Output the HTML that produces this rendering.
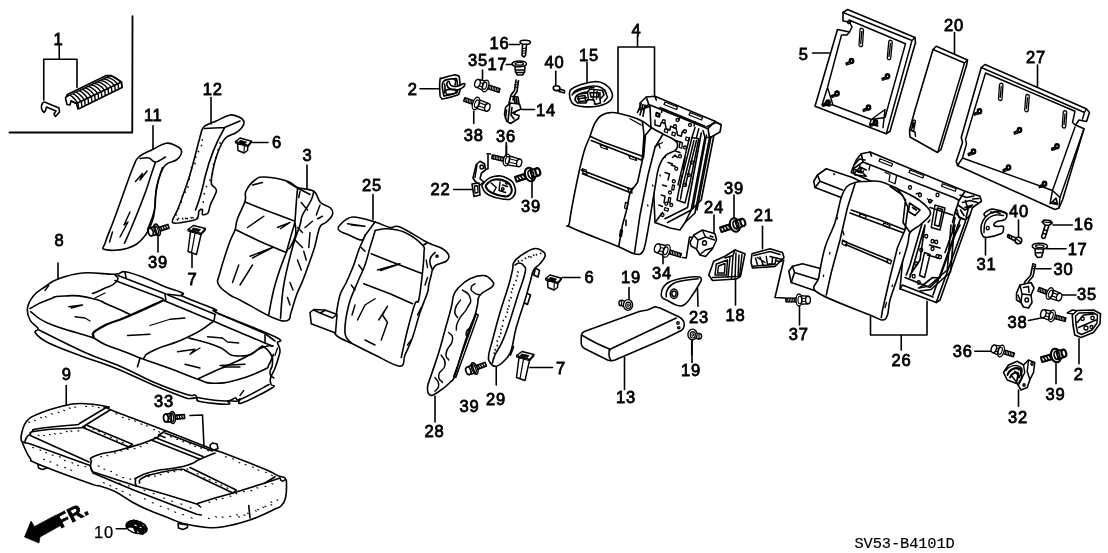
<!DOCTYPE html>
<html><head><meta charset="utf-8"><title>Rear Seat parts diagram</title>
<style>
html,body{margin:0;padding:0;background:#fff}
svg{display:block;will-change:transform}
text{font-family:"Liberation Sans",sans-serif;font-size:16.5px;fill:#000;stroke:#000;stroke-width:.8px;letter-spacing:.7px}
.l{fill:none;stroke:#000;stroke-linecap:round;stroke-linejoin:round}
.w{fill:#fff;stroke:#000;stroke-linecap:round;stroke-linejoin:round}
.k{fill:#000;stroke:#000;stroke-linejoin:round}
</style></head><body>
<svg width="1108" height="553" viewBox="0 0 1108 553">
<rect width="1108" height="553" fill="#fff"/>
<!-- 00_box1.py -->
<g transform="translate(0 0) scale(0.25)" stroke-width="6.4"><path class="l" d="M530,65 L529,530 L38,530" stroke-width="7.28"/><path class="l" d="M237,182 L237,237 M175,237 L308,237 M175,237 L175,400 M308,237 L308,350"/><path class="w" d="M176,450 C165,440 163,425 170,412 L178,408 L236,432 L238,448 L222,466 L216,456 L224,444 L186,428 L182,442 Z"/><path class="w" d="M268,418 L262,392 L270,378 L425,302 L445,302 L486,328 L488,350 L322,432 L312,436 L306,414 L284,404 L280,420 Z"/><path class="l" d="M270,386 C278,372 298,392 312,414 L314,432 M282.154,380.154 C290.154,366.154 311.385,385.692 325.385,407.692 L327.385,425.692 M294.308,374.308 C302.308,360.308 324.769,379.385 338.769,401.385 L340.769,419.385 M306.462,368.462 C314.462,354.462 338.154,373.077 352.154,395.077 L354.154,413.077 M318.615,362.615 C326.615,348.615 351.538,366.769 365.538,388.769 L367.538,406.769 M330.769,356.769 C338.769,342.769 364.923,360.462 378.923,382.462 L380.923,400.462 M342.923,350.923 C350.923,336.923 378.308,354.154 392.308,376.154 L394.308,394.154 M355.077,345.077 C363.077,331.077 391.692,347.846 405.692,369.846 L407.692,387.846 M367.231,339.231 C375.231,325.231 405.077,341.538 419.077,363.538 L421.077,381.538 M379.385,333.385 C387.385,319.385 418.462,335.231 432.462,357.231 L434.462,375.231 M391.538,327.538 C399.538,313.538 431.846,328.923 445.846,350.923 L447.846,368.923 M403.692,321.692 C411.692,307.692 445.231,322.615 459.231,344.615 L461.231,362.615 M415.846,315.846 C423.846,301.846 458.615,316.308 472.615,338.308 L474.615,356.308 M428,310 C436,296 472,310 486,332 L488,350 " stroke-width="5.72"/><path class="l" d="M306,414 L486,328 M284,404 L306,414"/></g>

<!-- 01_p11_12.py -->
<g transform="translate(80 112) scale(0.25)" stroke-width="6.4"><path class="w" d="M235,180 C250.0,167.0 268.0,161.0 290,150 C312.0,139.0 326.0,127.8 345,125 C364.0,122.2 373.2,131.0 385,136 C396.8,141.0 400.2,143.2 404,150 C407.8,156.8 407.8,161.6 404,170 C400.2,178.4 397.4,183.6 385,192 C372.6,200.4 355.4,198.4 342,212 C328.6,225.6 326.0,235.4 318,260 C310.0,284.6 306.8,303.0 302,335 C297.2,367.0 303.2,387.0 294,420 C284.8,453.0 276.8,475.0 256,500 C235.2,525.0 221.2,535.0 190,545 C158.8,555.0 117.6,555.0 100,550 C82.4,545.0 94.0,546.0 102,520 C110.0,494.0 122.4,468.0 140,420 C157.6,372.0 175.0,321.0 190,280 C205.0,239.0 206.0,235.0 215,215 C224.0,195.0 220.0,193.0 235,180 Z"/><path class="l" d="M240,186 C247.0,185.6 262.6,181.2 275,184 C287.4,186.8 288.6,200.8 302,200 C315.4,199.2 334.0,184.0 342,180M302,200 C298.6,210.0 293.0,226.0 285,250 C277.0,274.0 276.0,282.0 262,320 C248.0,358.0 231.8,399.0 215,440 C198.2,481.0 185.4,508.0 178,525"/><path class="l" d="M330,222 C324.0,241.5 314.0,258.0 306,300 C298.0,342.0 307.0,347.5 298,390 C289.0,432.5 277.0,450.0 270,470" stroke-width="5.85"/><path class="l" d="M222,278 L250,246 L240,272 L268,236 M200,400 L176,452 L192,440 L160,500 M130,480 L118,520" stroke-width="5.85"/><path class="l" d="M292,55 L292,148"/><path class="w" d="M495,60 C504.8,50.4 529.2,43.2 545,36 C560.8,28.8 585.8,14.1 600,12 C614.2,9.9 631.6,17.8 640,22 C648.4,26.2 654.8,34.0 656,40 C657.2,46.0 653.1,55.4 648,62 C642.9,68.6 631.9,77.7 622,84 C612.1,90.3 592.5,92.6 582,104 C571.5,115.4 559.8,139.6 552,160 C544.2,180.4 533.9,220.8 530,240 C526.1,259.2 523.6,276.9 526,288 C528.4,299.1 546.6,301.7 546,314 C545.4,326.3 527.1,356.5 522,370 C516.9,383.5 516.8,398.0 512,404 C507.2,410.0 493.3,412.1 490,410 C486.7,407.9 492.1,392.1 490,390 C487.9,387.9 479.0,390.8 476,396 C473.0,401.2 475.4,419.0 470,425 C464.6,431.0 455.0,433.4 440,436 C425.0,438.6 376.8,450.4 370,442 C363.2,433.6 384.5,408.8 395,380 C405.5,351.2 427.2,292.0 440,250 C452.8,208.0 471.8,128.5 480,100 C488.2,71.5 485.2,69.6 495,60 Z"/><path class="l" d="M497,66 L578,62 M578,62 L640,36 M578,64 C545,120 515,200 500,260 C490,310 475,360 462,392"/><path class="l" d="M488,111 l2,2 M485,133 l2,2 M473,157 l2,2 M462,179 l2,2 M459,205 l2,2 M445,223 l2,2 M438,252 l2,2 M436,267 l2,2 M431,299 l2,2 M420,319 l2,2 M408,336 l2,2 M404,359 l2,2 M393,384 l2,2 M383,410 l2,2 M559,123 l2,2 M551,151 l2,2 M542,182 l2,2 M533,208 l2,2 M529,245 l2,2 M519,272 l2,2 M505,297 l2,2 M496,326 l2,2 M492,359 l2,2 M483,389 l2,2 M388,430 l2,2 M393,425 l2,2 M410,426 l2,2 M422,425 l2,2 M428,425 l2,2 M444,422 l2,2 M451,422 l2,2 M468,424 l2,2 " stroke-width="5.2"/><path class="l" d="M524,-58 L524,48"/><path class="l" d="M690,122 L752,122 M312,500 L312,560 M448,548 L448,622"/></g>

<!-- 02_seat3_25.py -->
<g transform="translate(215 165) scale(0.25)" stroke-width="6.4"><path class="w" d="M20,430 C11.2,463.6 6.0,460.0 14,478 C22.0,496.0 42.8,507.6 60,520 C77.2,532.4 66.0,522.0 100,540 C134.0,558.0 192.0,593.6 230,610 C268.0,626.4 275.2,626.0 290,622 C304.8,618.0 296.8,610.4 304,590 C311.2,569.6 316.4,546.0 326,520 C335.6,494.0 342.4,484.0 352,460 C361.6,436.0 364.8,426.0 374,400 C383.2,374.0 390.8,354.0 398,330 C405.2,306.0 405.2,297.2 410,280 C414.8,262.8 414.8,254.4 422,244 C429.2,233.6 436.4,237.2 446,228 C455.6,218.8 466.8,209.2 470,198 C473.2,186.8 471.6,181.6 462,172 C452.4,162.4 435.4,163.4 422,150 C408.6,136.6 413.4,117.0 395,105 C376.6,93.0 351.0,98.0 330,90 C309.0,82.0 316.0,73.4 290,65 C264.0,56.6 226.0,49.0 200,48 C174.0,47.0 175.2,48.8 160,60 C144.8,71.2 132.0,87.0 124,104 C116.0,121.0 126.8,122.8 120,145 C113.2,167.2 98.0,192.0 90,215 C82.0,238.0 86.4,241.0 80,260 C73.6,279.0 70.0,276.0 58,310 C46.0,344.0 28.8,396.4 20,430 Z"/><path class="l" d="M120,148 C136.0,154.4 160.0,164.6 200,180 C240.0,195.4 296.0,216.0 320,225M320,225 C321.2,208.0 324.0,166.0 326,140 C328.0,114.0 329.2,104.0 330,95M85,260 C106.0,270.0 150.0,292.0 190,310 C230.0,328.0 266.0,342.0 285,350M285,350 C288.4,338.0 295.0,314.4 302,290 C309.0,265.6 316.4,240.4 320,228M320,228 C320.4,238.4 326.0,259.6 322,280 C318.0,300.4 307.4,316.0 300,330 C292.6,344.0 297.0,320.0 285,350 C273.0,380.0 254.0,430.4 240,480 C226.0,529.6 220.0,574.4 215,598M395,105 C393.0,112.0 394.0,121.0 385,140 C376.0,159.0 359.0,180.0 350,200 C341.0,220.0 348.0,214.0 340,240 C332.0,266.0 323.0,282.0 310,330 C297.0,378.0 284.6,423.2 275,480 C265.4,536.8 264.6,587.2 262,614M290,68 L330,92 L380,118"/><path class="l" d="M130,250 L195,205 M250,250 L300,230 L262,255 M140,365 L230,330 L150,372 M100,480 L150,400 M70,470 L95,400 M320,300 L350,330 M380,270 L375,330 M330,380 L345,420 M300,470 L312,500 M360,250 L390,225 M420,160 L405,200 M345,150 L370,180 M330,250 L350,270 M290,530 L300,560 M355,345 L365,380 M410,215 L430,205 M150,80 L190,70 M340,105 L335,130" stroke-width="5.85"/><path class="w" d="M600,282 C601.8,274.8 595.8,300.0 585,300 C574.2,300.0 555.8,288.8 540,282 C524.2,275.2 504.2,269.6 497,262 C489.8,254.4 490.5,249.7 500,240 C509.5,230.3 524.8,210.2 550,208 C575.2,205.8 613.0,220.4 640,228 C667.0,235.6 682.0,246.4 700,250 C718.0,253.6 713.0,237.2 740,248 C767.0,258.8 819.4,294.3 850,310 C880.6,325.7 894.7,325.6 910,335 C925.3,344.4 932.3,353.0 935,362 C937.7,371.0 934.0,378.2 925,385 C916.0,391.8 894.9,393.7 885,400 C875.1,406.3 873.6,412.8 870,420 C866.4,427.2 867.7,429.2 865,440 C862.3,450.8 857.7,467.4 855,480 C852.3,492.6 856.3,490.2 850,510 C843.7,529.8 830.8,557.6 820,590 C809.2,622.4 800.8,659.4 790,690 C779.2,720.6 769.0,739.3 760,760 C751.0,780.7 761.6,805.0 740,805 C718.4,805.0 672.4,775.3 640,760 C607.6,744.7 588.8,735.3 560,720 C531.2,704.7 493.5,696.6 480,675 C466.5,653.4 481.4,627.9 485,600 C488.6,572.1 492.8,543.4 500,520 C507.2,496.6 515.1,491.6 525,470 C534.9,448.4 546.0,423.4 555,400 C564.0,376.6 566.9,361.2 575,340 C583.1,318.8 598.2,289.2 600,282 Z"/><path class="w" d="M380,590 L395,578 L440,580 L488,598 L482,672 L385,635 Z"/><path class="l" d="M395,580 L420,592 L470,612 L485,600 M420,592 L440,582"/><path class="l" d="M640,228 L600,282 M640,265 C636.0,278.0 628.0,303.0 620,330 C612.0,357.0 610.0,372.0 600,400 C590.0,428.0 583.0,438.0 570,470 C557.0,502.0 545.0,520.0 535,560 C525.0,600.0 518.0,639.6 520,670 C522.0,700.4 540.0,703.6 545,712M640,262 C649.0,260.7 668.4,253.6 690,255 C711.6,256.4 734.8,258.3 760,270 C785.2,281.7 816.3,305.6 830,320 C843.7,334.4 836.0,330.2 836,350 C836.0,369.8 833.8,395.8 830,430 C826.2,464.2 820.4,517.5 815,540 C809.6,562.5 808.1,533.4 800,555 C791.9,576.6 779.9,621.3 770,660 C760.1,698.7 749.5,750.2 745,770M625,355 L700,385 L830,435 M595,475 L700,515 L790,555 M850,310 L832,322 M870,420 C867.0,408.0 857.0,401.0 860,380 C863.0,359.0 874.0,359.0 880,350"/><path class="l" d="M530,235 L600,245 L545,240 M650,420 L740,395 L662,422 M570,620 L600,560 L640,535 M655,620 L690,565 L670,600 L690,630 L665,700 M575,400 L590,420 M545,480 L560,500 M840,480 L850,450 M810,600 L825,570 M770,720 L785,700 M560,560 L548,600 M585,330 L600,345 M845,380 L850,410 M600,700 L640,720" stroke-width="5.85"/><path class="l" d="M888,365 m-5,0 a5,4 0 1,0 10,0 a5,4 0 1,0 -10,0" stroke-width="5.2"/><path class="l" d="M368,0 L368,95 M632,118 L632,218"/></g>

<!-- 03_cushion8.py -->
<g transform="translate(15 268) scale(0.25)" stroke-width="6.4"><path class="w" d="M50,160 C53.0,140.4 61.0,127.0 75,110 C89.0,93.0 101.0,88.0 120,75 C139.0,62.0 140.0,56.0 170,45 C200.0,34.0 224.0,24.0 270,20 C316.0,16.0 366.0,26.0 400,25 C434.0,24.0 416.0,12.0 440,15 C464.0,18.0 488.0,28.0 520,40 C552.0,52.0 570.0,63.0 600,75 C630.0,87.0 655.0,92.0 670,100 C685.0,108.0 649.0,102.0 675,115 C701.0,128.0 773.0,152.0 800,165 C827.0,178.0 762.0,158.0 810,180 C858.0,202.0 992.0,251.0 1040,275 C1088.0,299.0 1046.0,289.0 1050,300 C1054.0,311.0 1059.4,317.8 1060,330 C1060.6,342.2 1057.0,346.8 1053,361 C1049.0,375.2 1046.2,385.0 1040,401 C1033.8,417.0 1025.2,428.0 1022,441 C1018.8,454.0 1022.8,458.2 1024,466 C1025.2,473.8 1051.4,465.2 1028,480 C1004.6,494.8 932.6,531.2 907,540 C881.4,548.8 904.0,525.4 900,524 C896.0,522.6 896.4,531.4 887,533 C877.6,534.6 860.4,529.6 853,532 C845.6,534.4 872.6,544.6 850,545 C827.4,545.4 764.6,539.0 740,534 C715.4,529.0 735.0,522.4 727,520 C719.0,517.6 710.8,522.8 700,522 C689.2,521.2 702.4,526.8 673,516 C643.6,505.2 607.6,491.2 553,468 C498.4,444.8 457.2,423.0 400,400 C342.8,377.0 320.4,373.2 267,353 C213.6,332.8 170.0,317.6 133,299 C96.0,280.4 90.2,271.4 82,260 C73.8,248.6 96.4,252.4 92,242 C87.6,231.6 68.4,224.4 60,208 C51.6,191.6 47.0,179.6 50,160 Z"/><path class="l" d="M96,248 C132.8,266.0 213.8,308.4 280,338 C346.2,367.6 372.4,372.4 427,396 C481.6,419.6 501.0,434.0 553,456 C605.0,478.0 653.6,495.6 687,506 C720.4,516.4 709.4,505.2 720,508 C730.6,510.8 715.0,515.2 740,520 C765.0,524.8 817.0,532.0 845,532 C873.0,532.0 868.0,521.6 880,520 C892.0,518.4 877.8,534.8 905,524 C932.2,513.2 993.8,477.6 1016,466"/><path class="l" d="M63,175 C80.5,186.5 82.0,198.5 133,221 C184.0,243.5 222.0,250.8 267,265 C312.0,279.2 301.5,274.8 313,278M500,360 C530.0,370.5 561.2,380.5 620,402 C678.8,423.5 691.8,431.2 735,446 C778.2,460.8 755.0,460.5 793,461 C831.0,461.5 837.0,461.2 887,448 C937.0,434.8 960.8,423.5 993,408 C1025.2,392.5 1005.8,401.8 1016,386 C1026.2,370.2 1029.5,355.2 1034,345"/><path class="l" d="M60,162 C84.5,150.1 81.0,145.5 130,128 C179.0,110.5 140.5,114.8 200,112 C259.5,109.2 237.0,106.7 300,120 C363.0,133.3 324.0,126.9 380,150 C436.0,173.1 432.0,173.4 460,186"/><path class="l" d="M400,26 C401.8,36.1 422.5,34.4 405,55 C387.5,75.7 383.2,68.5 350,85 C316.8,101.5 324.0,96.0 310,102"/><path class="l" d="M400,50 L590,122 L600,132 M412,30 L604,104 L670,112 M440,18 L445,42"/><path class="l" d="M592,130 C545.8,151.0 548.2,151.5 460,190 C371.8,228.5 391.4,209.2 340,240 C288.6,270.8 322.4,264.7 313,278" stroke-width="9.1"/><path class="l" d="M313,278 C322.4,283.6 336.6,295.2 360,306 C383.4,316.8 402.0,321.2 430,332 C458.0,342.8 486.0,354.4 500,360M500,360 L490,395"/><path class="l" d="M792,215 C756.3,236.7 771.2,237.8 690,277 C608.8,316.2 621.2,297.9 560,327 C498.8,356.1 530.8,348.4 515,360"/><path class="l" d="M600,132 L792,212 M612,108 L802,186 M600,104 L604,132 M800,186 L796,214"/><path class="l" d="M800,215 C835.0,230.1 830.0,228.2 900,258 C970.0,287.8 953.8,281.1 1000,300 C1046.2,318.9 1020.8,307.8 1032,312"/><path class="l" d="M812,182 L1000,262 L1040,292 M1000,262 L1000,300"/><path class="l" d="M695,280 C731.8,290.5 728.2,284.8 800,310 C871.8,335.2 833.5,351.3 900,352 C966.5,352.7 958.5,326.0 990,312"/><path class="l" d="M735,442 C757.8,431.5 759.8,430.2 800,412 C840.2,393.8 804.5,411.0 850,390 C895.5,369.0 881.0,377.2 930,352 C979.0,326.8 955.0,332.0 990,318 C1025.0,304.0 1016.0,314.1 1030,312"/><path class="l" d="M990,312 C1000.5,321.8 1006.0,316.2 1020,340 C1034.0,363.8 1030.0,352.0 1030,380 C1030.0,408.0 1018.2,399.0 1020,420 C1021.8,441.0 1029.8,433.0 1035,440"/><path class="l" d="M215,155 L270,148 L225,160 M240,195 L280,200 L300,212 M320,120 L360,100 M540,230 L620,205 L680,200 M450,270 L540,265 M650,335 L720,325 L700,345 L740,320 M770,275 L830,280 L850,296 L895,300 M680,385 L740,400 M820,390 L920,385 M830,396 L900,396 M120,90 L135,70 M1040,350 L1050,320 M900,510 L915,490" stroke-width="5.2"/><path class="l" d="M172,-20 L172,44"/></g>

<!-- 04_cushion9.py -->
<g transform="translate(15 393) scale(0.25)" stroke-width="6.4"><path class="w" d="M92,285 L94,300 L110,306 L128,300 L128,290 Z M652,522 L654,540 L672,546 L690,538 L690,528 Z"/><path class="w" d="M25,170 C28.0,153.0 32.0,132.0 45,115 C58.0,98.0 63.0,97.0 90,85 C117.0,73.0 146.0,63.6 180,55 C214.0,46.4 222.0,42.0 260,42 C298.0,42.0 345.0,49.8 370,55 C395.0,60.2 339.0,49.0 385,68 C431.0,87.0 519.0,118.6 600,150 C681.0,181.4 746.0,208.0 790,225 C834.0,242.0 778.0,219.0 820,235 C862.0,251.0 954.0,286.0 1000,305 C1046.0,324.0 1034.0,323.0 1050,330 C1066.0,337.0 1072.8,333.0 1080,340 C1087.2,347.0 1085.6,349.0 1086,365 C1086.4,381.0 1086.0,403.0 1082,420 C1078.0,437.0 1074.4,441.2 1066,450 C1057.6,458.8 1065.2,452.4 1040,464 C1014.8,475.6 981.2,493.8 940,508 C898.8,522.2 868.6,529.0 834,535 C799.4,541.0 799.0,540.6 767,538 C735.0,535.4 703.4,529.2 674,522 C644.6,514.8 650.8,514.0 620,502 C589.2,490.0 550.6,475.4 520,462 C489.4,448.6 491.0,448.6 467,435 C443.0,421.4 425.4,406.6 400,394 C374.6,381.4 360.0,378.4 340,372 C320.0,365.6 349.6,379.6 300,362 C250.4,344.4 140.0,304.4 92,284 C44.0,263.6 72.4,276.8 60,260 C47.6,243.2 37.0,218.0 30,200 C23.0,182.0 22.0,187.0 25,170 Z"/><path class="l" d="M60,165 C74.0,159.8 33.5,158.8 100,150 C166.5,141.2 189.8,145.2 250,140 C310.2,134.8 264.3,136.8 272,135"/><path class="l" d="M70,152 C84.0,147.8 45.2,149.1 110,140 C174.8,130.9 204.2,130.9 255,126"/><path class="l" d="M272,135 L380,68 M258,122 L368,56 M276,140 L455,216 M290,130 L470,205 M455,216 L470,205"/><path class="l" d="M32,196 C40,200 50,200 62,204 L300,290 L310,315"/><path class="l" d="M60,165 C54.8,170.2 52.0,167.8 45,180 C38.0,192.2 41.8,193.0 40,200"/><path class="l" d="M62,170 C64,172 66,172 70,174 L296,276"/><path class="l" d="M305,275 C312.0,266.2 281.2,267.5 325,250 C368.8,232.5 353.0,246.7 430,225 C507.0,203.3 492.5,209.0 545,188 C597.5,167.0 560.8,177.6 580,165 C599.2,152.4 593.0,156.6 600,152"/><path class="l" d="M305,275 C300,290 302,305 310,315 L485,372"/><path class="l" d="M485,372 C483.9,364.3 478.5,362.9 482,350 C485.5,337.1 467.7,348.3 495,335 C522.3,321.7 509.2,324.2 560,312 C610.8,299.8 591.0,309.4 640,300 C689.0,290.6 665.0,297.2 700,285 C735.0,272.8 705.0,280.8 740,265 C775.0,249.2 779.0,248.8 800,240"/><path class="l" d="M498,360 C502.2,353.0 486.6,353.3 510,340 C533.5,326.7 516.0,333.9 565,322 C614.0,310.1 609.0,310.2 650,306 C691.0,301.8 670.8,308.6 682,310"/><path class="l" d="M545,188 L740,265 M560,178 L752,254 M600,160 L790,232 M575,168 L600,178"/><path class="l" d="M682,310 L872,400 M700,298 L885,388 M872,400 L885,388"/><path class="l" d="M730,442 L800,420 L872,400 L1000,360 L1060,340"/><path class="l" d="M485,372 L600,405 L730,445 L742,456 M312,320 L474,388 L727,485 L745,488"/><path class="l" d="M1060,340 C1062.8,344.2 1060.3,349.9 1068,352 C1075.7,354.1 1077.1,348.1 1082,346"/><path class="l" d="M935,450 L940,500 M1000,360 L1040,335"/><path class="l" d="M55,116 l3,1 M78,109 l3,1 M103,98 l3,1 M122,95 l3,1 M146,83 l3,1 M173,77 l3,1 M195,69 l3,1 M217,60 l3,1 M239,56 l3,1 M283,53 l3,1 M309,52 l3,1 M334,58 l3,1 M356,58 l3,1 M93,169 l3,1 M115,169 l3,1 M138,166 l3,1 M158,163 l3,1 M181,161 l3,1 M206,154 l3,1 M224,152 l3,1 M252,151 l3,1 M312,144 l3,1 M335,154 l3,1 M357,166 l3,1 M382,177 l3,1 M406,188 l3,1 M430,198 l3,1 M404,83 l3,1 M430,97 l3,1 M455,105 l3,1 M479,112 l3,1 M504,124 l3,1 M526,131 l3,1 M555,146 l3,1 M575,155 l3,1 M343,254 l3,1 M368,250 l3,1 M398,239 l3,1 M423,231 l3,1 M449,225 l3,1 M477,222 l3,1 M501,214 l3,1 M526,201 l3,1 M333,292 l3,1 M356,304 l3,1 M383,313 l3,1 M405,327 l3,1 M431,338 l3,1 M460,344 l3,1 M622,175 l3,1 M647,185 l3,1 M671,194 l3,1 M698,203 l3,1 M719,213 l3,1 M742,220 l3,1 M771,230 l3,1 M533,334 l3,1 M558,332 l3,1 M581,326 l3,1 M611,317 l3,1 M636,314 l3,1 M663,308 l3,1 M688,304 l3,1 M729,323 l3,1 M756,339 l3,1 M777,347 l3,1 M802,357 l3,1 M824,368 l3,1 M848,380 l3,1 M842,255 l3,1 M871,263 l3,1 M896,278 l3,1 M921,286 l3,1 M950,296 l3,1 M972,308 l3,1 M1002,317 l3,1 M1026,329 l3,1 M776,436 l3,1 M804,426 l3,1 M829,421 l3,1 M860,412 l3,1 M884,402 l3,1 M914,394 l3,1 M944,390 l3,1 M968,379 l3,1 M1000,373 l3,1 M1028,363 l3,1 M71,218 l3,1 M100,228 l3,1 M123,238 l3,1 M149,248 l3,1 M178,255 l3,1 M198,270 l3,1 M228,279 l3,1 M251,289 l3,1 M280,294 l3,1 M354,359 l3,1 M380,370 l3,1 M404,382 l3,1 M429,393 l3,1 M458,407 l3,1 M518,423 l3,1 M550,439 l3,1 M581,453 l3,1 M612,463 l3,1 M639,476 l3,1 M671,486 l3,1 M705,499 l3,1 M774,501 l3,1 M803,495 l3,1 M829,496 l3,1 M859,493 l3,1 M887,487 l3,1 M916,488 l3,1 M971,466 l3,1 M1000,453 l3,1 M1024,436 l3,1 M1048,428 l3,1 M345,335 l3,1 M381,349 l3,1 M417,361 l3,1 M454,371 l3,1 M516,389 l3,1 M553,402 l3,1 M595,420 l3,1 M626,432 l3,1 M664,444 l3,1 M701,459 l3,1 M115,265 l3,1 M140,275 l3,1 M168,288 l3,1 M199,298 l3,1 M223,308 l3,1 M895,495 l3,1 M930,481 l3,1 M962,471 l3,1 M992,457 l3,1 M1024,447 l3,1 " stroke-width="5.2"/><path class="l" d="M700,90 L750,88 L756,215"/><path class="w" d="M780,208 L790,200 L808,204 L812,222 L796,228 L782,222 Z"/><path class="l" d="M205,-30 L205,50"/></g>
<g transform="translate(172.5 417.5) rotate(-5) scale(1.2)" stroke-width="1.4"><path class="w" d="M2,-1.6 L10,-1.6 L10,1.6 L2,1.6 Z"/><path class="l" d="M3.5,-1.6 L4.3,1.6 M5.5,-1.6 L6.3,1.6 M7.5,-1.6 L8.3,1.6" stroke-width="1.1"/><ellipse class="w" cx="0" cy="0" rx="2.4" ry="5"/><path class="w" d="M-1,-3.6 L-5.5,-3.2 L-5.5,3.2 L-1,3.6 Z"/><ellipse class="w" cx="-5.5" cy="0" rx="2" ry="3.3"/><ellipse class="l" cx="-0.6" cy="0" rx="1.6" ry="3.6" stroke-width="1.1"/></g>
<!-- 05_fr10.py -->
<g transform="translate(0 415) scale(0.25)" stroke-width="6.4"><path class="k" d="M98,488 L124,424 L138,446 L224,400 L246,440 L160,488 L156,512 Z" stroke-width="2.6"/><path class="w" d="M505,438 C510,420 540,418 565,430 C590,442 592,462 580,470 C560,480 530,472 515,460 C505,452 503,446 505,438 Z"/><path class="l" d="M512,436 C530,426 560,436 580,456 M510,448 C530,440 560,452 574,470 M525,424 L545,470 M545,424 L562,472 M562,430 L576,462 M510,442 L584,462 M515,430 L570,476 M535,422 L586,456" stroke-width="9.1"/><path class="l" d="M465,455 L505,455"/></g>
<text transform="translate(60.5 528.5) rotate(-27)" style="font-weight:bold;font-size:20px;stroke-width:.8px;letter-spacing:.3px">FR.</text>
<!-- 06_topcluster.py -->
<g transform="translate(415 25) scale(0.25)" stroke-width="6.4"><path class="w" d="M100,220 C102.0,206.5 99.0,216.5 110,212.5 C121.0,208.5 143.0,202.0 155,200 C167.0,198.0 165.5,200.5 170,202.5 C174.5,204.5 175.5,198.5 177.5,210 C179.5,221.5 180.5,247.5 180,260 C179.5,272.5 177.0,268.5 175,272.5 C173.0,276.5 182.0,275.5 170,280 C158.0,284.5 128.0,292.8 115,295 C102.0,297.2 108.0,294.0 105,291 C102.0,288.0 101.0,294.2 100,280 C99.0,265.8 98.0,233.5 100,220 Z"/><path class="l" d="M112.5,227.5 C120.7,215.3 144.0,216.5 155,215 C166.0,213.5 164.7,210.5 167.5,220 C170.3,229.5 170.0,252.0 169,262.5 C168.0,273.0 171.8,268.5 162.5,272.5 C153.2,276.5 132.2,281.8 122.5,282.5 C112.8,283.2 116.0,287.0 114,276 C112.0,265.0 104.3,239.7 112.5,227.5 Z" stroke-width="6.5"/><path class="w" d="M135,225 C139.4,225.6 136.2,237.5 145,242.5 C153.8,247.5 158.1,246.9 170,245 C181.9,243.1 185.2,236.2 192.5,235 C199.8,233.8 200.2,235.6 199,240 C197.8,244.4 196.0,247.5 187.5,252.5 C179.0,257.5 176.9,259.4 165,260 C153.1,260.6 149.4,260.0 140,255 C130.6,250.0 128.8,247.5 127.5,240 C126.2,232.5 130.6,224.4 135,225 Z" stroke-width="6.5"/><path class="l" d="M125,260 C128.2,258.0 156.2,256.2 160,257.5 C163.8,258.8 165.8,270.5 162.5,272.5 C159.2,274.5 131.2,278.8 127.5,277.5 C123.8,276.2 121.8,262.0 125,260 ZM155,216 C157.2,218.4 161.0,216.8 162.5,224 C164.0,231.2 160.8,235.2 160,240M117.5,235 C118.2,241.0 120.5,243.8 120,255 C119.5,266.2 117.2,267.2 116,272.5" stroke-width="6.5"/><path class="l" d="M20,255 L98,255"/><path class="w" d="M420,68 C420,58 462,58 462,70 C462,80 420,80 420,68 Z M430,80 L428,122 L436,128 L442,122 L446,80"/><path class="l" d="M429,95 L444,92 M429,105 L443,102 M429,114 L443,111" stroke-width="4.55"/><path class="l" d="M378,78 L418,78"/><path class="w" d="M388,155 C388,140 446,140 446,156 C446,170 388,170 388,155 Z M400,168 L402,188 L410,200 L430,200 L438,188 L440,168"/><path class="l" d="M400,155 C400,148 434,148 434,156 C434,162 400,162 400,155 Z M402,180 L438,180 M404,190 L436,190" stroke-width="5.2"/><path class="l" d="M365,158 L390,158"/><path class="l" d="M404,220 L398,262 L384,280 L376,312 M414,222 L408,266 L396,284 L392,300" stroke-width="6.5"/><path class="w" d="M362,330 L380,312 L418,316 L424,336 L402,346 L396,356 L416,362 L414,374 L382,394 L366,384 L358,356 Z"/><path class="l" d="M380,312 L372,384 M388,286 L412,288 L416,316 M396,292 L400,312 M404,290 L408,314 M366,340 L362,372 M388,330 L384,360 L396,376 M402,346 L390,352" stroke-width="6.5"/><path class="l" d="M402,228 L412,230 M400,238 L410,240 M399,248 L409,250" stroke-width="4.55"/><path class="l" d="M428,338 L478,338"/><path class="w" d="M553,252 C553,240 578,240 580,252 C580,266 553,266 553,252 Z M578,256 L598,262 L598,272 L576,266 Z"/><path class="l" d="M563,185 L563,240"/><path class="w" d="M620,262 C635,245 690,228 722,226 C750,226 785,246 790,280 C790,300 770,318 722,326 C690,330 650,326 636,318 C620,308 614,280 620,262 Z"/><path class="l" d="M634,270 C645,256 690,244 718,244 C740,244 760,256 764,272 M640,300 C640,280 660,270 690,268 L700,256 L750,262 L756,280 L740,296 L742,312 L720,318 L716,300 L690,298 L684,312 L650,312 Z M652,286 L680,282 L682,304 L656,306 Z M700,270 L736,272 L734,288 L704,288 Z" stroke-width="6.5"/><path class="l" d="M628,280 C640,262 690,250 716,250 M660,276 L690,272 M690,268 L694,300 M716,262 L712,300 M728,266 L726,296 M740,270 L740,296 M650,296 L686,290 M760,262 L770,290 L756,306" stroke-width="5.85"/><path class="l" d="M688,150 L688,228"/><path class="l" d="M890,45 L890,88 M812,88 L958,88 M812,88 L812,350 M958,88 L958,285"/><path class="l" d="M270,180 L270,220 M235,345 L235,394 M366,482 L366,520"/></g>
<g transform="translate(485.5 86) rotate(18)" stroke-width="1.35"><path class="w" d="M1,-1.9 L14.5,-1.9 L14.5,1.9 L1,1.9 Z"/><path class="l" d="M2.5,-1.9 L3.3,1.9 M4.2,-1.9 L5,1.9 M5.9,-1.9 L6.7,1.9 M7.6,-1.9 L8.4,1.9 M9.3,-1.9 L10.1,1.9 M11,-1.9 L11.8,1.9 M12.7,-1.9 L13.5,1.9 M14.4,-1.9 L15.2,1.9 " stroke-width="1.1"/><path class="w" d="M-8.5,-4.08 L-1,-4.8 L-1,4.8 L-8.5,4.08 Z"/><path class="l" d="M-8.5,-1.44 L-1,-1.68 M-8.5,1.68 L-1,1.92" stroke-width="1.1"/><ellipse class="w" cx="-8.5" cy="0" rx="2.64" ry="4.08"/><ellipse class="w" cx="0" cy="0" rx="3" ry="6"/><ellipse class="l" cx="-0.8" cy="0" rx="1.8" ry="3.72" stroke-width="1.1"/></g><g transform="translate(476 103.5) rotate(199)" stroke-width="1.35"><path class="w" d="M1,-1.9 L12.5,-1.9 L12.5,1.9 L1,1.9 Z"/><path class="l" d="M2.5,-1.9 L3.3,1.9 M4.2,-1.9 L5,1.9 M5.9,-1.9 L6.7,1.9 M7.6,-1.9 L8.4,1.9 M9.3,-1.9 L10.1,1.9 M11,-1.9 L11.8,1.9 " stroke-width="1.1"/><path class="w" d="M-12,-3.91 L-1,-4.6 L-1,4.6 L-12,3.91 Z"/><path class="l" d="M-12,-1.38 L-1,-1.61 M-12,1.61 L-1,1.84" stroke-width="1.1"/><ellipse class="w" cx="-12" cy="0" rx="2.53" ry="3.91"/><ellipse class="w" cx="0" cy="0" rx="3.25" ry="6.5"/><ellipse class="l" cx="-0.8" cy="0" rx="1.95" ry="4.03" stroke-width="1.1"/></g>
<!-- 07_seat4.py -->
<g transform="translate(555 75) scale(0.25)" stroke-width="6.4"><path class="w" d="M340,140 L340,112 L365,88 L400,85 L640,185 L665,200 L660,228 L618,252 L560,552 L520,590 L500,620 L460,612 L400,590 L380,125 Z"/><path class="l" d="M365,88 L375,118 L612,215 L640,185 M612,215 L618,252 M375,118 L345,140 M400,85 L405,100 M345,115 L330,150 M352,118 L340,160 M360,120 L352,165" stroke-width="6.5"/><path class="l" d="M440,108 L490,128 L486,138 L436,118 Z M540,150 L590,170 L586,180 L536,160 Z" stroke-width="5.2"/><path class="l" d="M600,250 L545,540 M585,232 L530,530 M635,245 L585,500 L545,540 L520,590 M530,530 L440,575 M545,540 L450,590 M400,590 L430,550" stroke-width="6.5"/><path class="l" d="M548,250 L500,440 L488,500 L520,512 L540,430 L575,255 Z M556,262 L512,440 L502,496" stroke-width="5.85"/><path class="l" d="M624,248 L568,540 M606,240 L552,532 M566,262 L522,440 M538,250 L492,440 M607,207 L643,190 L663,197 M627,247 L610,250 M420,130 L600,205" stroke-width="5.85"/><path class="l" d="M440,215 l12,4 l-3,12 l-12,-4 Z M470,228 l12,4 l-3,12 l-12,-4 Z M525,248 l12,4 l-3,12 l-12,-4 Z M455,250 l10,3 l-3,22 l-10,-3 Z M500,268 l10,3 l-3,22 l-10,-3 Z M470,440 l8,2 l-3,18 l-8,-2 Z M455,490 l8,2 l-3,18 l-8,-2 Z M440,530 l14,5 l-3,10 l-14,-5 Z" stroke-width="5.2"/><path class="l" d="M430,300 L445,305 L440,330 M452,350 L470,356 M440,390 L458,396 L452,420 M430,440 L446,445 M425,480 L440,485 L436,510 M415,520 L430,526 M470,300 L500,310 M476,260 L506,270 M520,330 L512,380 M508,400 L500,450 M560,210 L548,250 M575,215 L566,250 M592,222 L600,250 M430,135 L426,150 M500,165 L496,180 M560,188 L556,204" stroke-width="5.85"/><path class="l" d="M410,160 m-6,0 a6,6 0 1,0 12,0 a6,6 0 1,0 -12,0 M435,185 m-6,0 a6,6 0 1,0 12,0 a6,6 0 1,0 -12,0 M480,205 m-6,0 a6,6 0 1,0 12,0 a6,6 0 1,0 -12,0 M520,225 m-6,0 a6,6 0 1,0 12,0 a6,6 0 1,0 -12,0 M490,180 m-6,0 a6,6 0 1,0 12,0 a6,6 0 1,0 -12,0 M540,200 m-6,0 a6,6 0 1,0 12,0 a6,6 0 1,0 -12,0 M500,325 m-6,0 a6,6 0 1,0 12,0 a6,6 0 1,0 -12,0 M485,375 m-6,0 a6,6 0 1,0 12,0 a6,6 0 1,0 -12,0 M475,425 m-6,0 a6,6 0 1,0 12,0 a6,6 0 1,0 -12,0 M460,470 m-6,0 a6,6 0 1,0 12,0 a6,6 0 1,0 -12,0 M445,515 m-6,0 a6,6 0 1,0 12,0 a6,6 0 1,0 -12,0 M430,560 m-6,0 a6,6 0 1,0 12,0 a6,6 0 1,0 -12,0 M465,520 m-6,0 a6,6 0 1,0 12,0 a6,6 0 1,0 -12,0 M520,290 m-6,0 a6,6 0 1,0 12,0 a6,6 0 1,0 -12,0 M548,350 m-6,0 a6,6 0 1,0 12,0 a6,6 0 1,0 -12,0 M520,440 m-6,0 a6,6 0 1,0 12,0 a6,6 0 1,0 -12,0 M535,400 m-6,0 a6,6 0 1,0 12,0 a6,6 0 1,0 -12,0 " stroke-width="5.2"/><path class="l" d="M400,180 L400,200 L420,205 L425,190 L440,192 L445,215 L460,220 L462,205 L485,215 L490,240 L505,245 L510,225 L520,232 M470,330 L480,320 L490,330 M465,360 L480,365 M405,150 L420,155 L418,168 L404,164 Z" stroke-width="5.85"/><path class="w" d="M140,245 C147.3,225.6 150.3,210.1 158,196 C165.7,181.9 172.8,169.8 185,162 C197.2,154.2 210.4,149.5 230,150 C249.6,150.5 279.6,159.1 300,165 C320.4,170.9 335.6,177.3 350,185 C364.4,192.7 371.4,201.5 385,210 C398.6,218.5 415.6,227.3 430,235 C444.4,242.7 459.8,248.2 470,255 C480.2,261.8 488.0,267.4 490,275 C492.0,282.6 490.2,292.0 482,300 C473.8,308.0 453.4,310.1 442,322 C430.6,333.9 422.1,348.2 415,370 C407.9,391.8 407.6,405.8 400,450 C392.4,494.2 378.2,586.6 370,630 C361.8,673.4 360.5,690.4 352,705 C343.5,719.6 337.3,719.4 320,716 C302.7,712.6 293.4,703.0 250,685 C206.7,667.0 97.6,626.1 65,610 C32.4,593.9 54.6,618.9 58,590 C61.4,561.1 75.3,487.6 85,440 C94.7,392.4 105.7,343.1 115,310 C124.3,276.9 132.7,264.4 140,245 Z"/><path class="l" d="M140,245 L190,268 L350,325 L356,240 L350,188 M145,262 L345,340 L352,326 M105,380 L300,455 M110,395 L300,470 L310,452 M352,330 L330,430 L300,470 L285,545 L270,600 L255,685 M385,212 L362,240 L354,330 M430,240 L400,290 L372,400 L340,560 L318,712"/><path class="l" d="M180,278 L205,288 L210,298 L185,290 Z M295,322 L322,332 L326,342 L300,334 Z M110,375 L125,380 L128,398 L112,392 Z M292,452 L306,456 L308,472 L294,468 Z M282,510 L292,512 L288,536 L278,532 Z M262,620 L270,622 L266,646 L258,644 Z" stroke-width="5.2"/><path class="l" d="M400,285 L430,270 M415,275 L420,292 M300,175 L345,200 M390,440 L392,444 M370,520 L372,524 M420,400 L421,404" stroke-width="5.2"/></g>

<!-- 08_p28_29_13.py -->
<g transform="translate(395 270) scale(0.25)" stroke-width="6.4"><path class="w" d="M255,70 C269.3,55.7 278.0,45.6 300,35 C322.0,24.4 336.3,20.9 355,22 C373.7,23.1 377.3,30.5 385,40 C392.7,49.5 399.9,51.8 390,65 C380.1,78.2 353.2,83.5 340,100 C326.8,116.5 334.4,122.4 330,140 C325.6,157.6 326.6,160.2 320,180 C313.4,199.8 311.0,199.2 300,230 C289.0,260.8 283.2,278.2 270,320 C256.8,361.8 251.0,391.4 240,420 C229.0,448.6 235.4,434.6 220,450 C204.6,465.4 187.6,479.0 170,490 C152.4,501.0 148.8,504.4 140,500 C131.2,495.6 128.9,487.6 130,470 C131.1,452.4 135.1,450.8 145,420 C154.9,389.2 162.9,369.6 175,330 C187.1,290.4 189.0,279.6 200,240 C211.0,200.4 217.3,180.8 225,150 C232.7,119.2 228.4,117.6 235,100 C241.6,82.4 240.7,84.3 255,70 Z"/><path class="l" d="M325,175 L235,425 M333,180 L243,430 M325,175 L333,180 M235,425 L243,430" stroke-width="5.85"/><path class="l" d="M340,100 C331.2,96.5 327.2,100.5 315,90 C302.8,79.5 303.2,82.2 305,70 C306.8,57.8 314.8,60.2 320,55M270,80 C280.5,90.5 293.0,85.5 300,110 C307.0,134.5 305.8,118.5 290,150 C274.2,181.5 270.8,168.5 255,200 C239.2,231.5 248.5,226.0 245,240M262,120 C254.3,134.0 244.2,135.5 240,160 C235.8,184.5 246.5,179.5 250,190M215,250 C220.2,260.5 233.5,252.0 230,280 C226.5,308.0 210.2,302.0 205,330 C199.8,358.0 211.5,349.5 215,360M185,340 C190.2,354.0 203.5,352.0 200,380 C196.5,408.0 178.5,395.5 175,420 C171.5,444.5 184.8,439.5 190,450M160,430 C165.2,440.5 175.0,440.8 175,460 C175.0,479.2 165.2,476.2 160,485M300,230 C294.8,237.0 288.5,236.0 285,250 C281.5,264.0 288.2,263.0 290,270" stroke-width="5.85"/><path class="l" d="M160,505 L160,608"/></g>
<g transform="translate(420 245) scale(0.25)" stroke-width="6.4"><path class="w" d="M462,92 L478,102 L472,128 L455,120 Z M424,192 L442,200 L430,238 L415,230 Z M358,396 L374,408 L362,440 L348,430 Z"/><path class="w" d="M375,70 C381.6,57.9 382.4,57.1 400,45 C417.6,32.9 435.2,19.4 455,15 C474.8,10.6 480.1,18.4 490,25 C499.9,31.6 502.2,34.0 500,45 C497.8,56.0 489.9,62.9 480,75 C470.1,87.1 463.8,83.5 455,100 C446.2,116.5 447.7,123.6 440,150 C432.3,176.4 432.1,180.4 420,220 C407.9,259.6 397.1,286.0 385,330 C372.9,374.0 374.9,391.4 365,420 C355.1,448.6 353.2,445.7 340,460 C326.8,474.3 318.2,482.8 305,485 C291.8,487.2 286.6,479.9 280,470 C273.4,460.1 272.8,459.8 275,440 C277.2,420.2 280.1,417.4 290,380 C299.9,342.6 305.7,318.4 320,270 C334.3,221.6 344.0,197.4 355,160 C366.0,122.6 365.6,119.8 370,100 C374.4,80.2 368.4,82.1 375,70 Z"/><path class="l" d="M380,80 C384.5,78.0 389.0,71.0 398,72 C407.0,73.0 410.5,74.0 416,84 C421.5,94.0 426.0,83.0 420,112 C414.0,141.0 412.0,138.0 392,200 C372.0,262.0 363.0,300.0 340,360 C317.0,420.0 312.5,412.0 300,440 C287.5,468.0 292.5,464.0 290,472"/><path class="l" d="M391,107 l2,2 M388,123 l2,2 M383,141 l2,2 M374,159 l2,2 M369,174 l2,2 M365,188 l2,2 M363,210 l2,2 M356,221 l2,2 M355,243 l2,2 M350,255 l2,2 M348,268 l2,2 M342,286 l2,2 M332,301 l2,2 M329,323 l2,2 M323,337 l2,2 M322,352 l2,2 M316,366 l2,2 M308,383 l2,2 M308,401 l2,2 M300,418 l2,2 M296,432 l2,2 M294,452 l2,2 M393,63 l2,2 M407,61 l2,2 M421,52 l2,2 M434,46 l2,2 M443,47 l2,2 M454,40 l2,2 M465,38 l2,2 M482,33 l2,2 " stroke-width="5.2"/><path class="l" d="M305,488 L305,560"/><path class="w" d="M645,368 C645,355 650,348 660,345 L880,265 L910,260 L940,247 L960,252 L1035,287 C1050,294 1058,305 1057,322 C1056,332 1052,338 1045,342 L980,374 L780,460 C770,464 760,464 750,460 L660,415 C650,410 645,400 645,392 Z"/><path class="l" d="M650,362 C657.5,366.2 683.5,381.9 700,390 C716.5,398.1 748.8,413.0 760,416 C771.2,419.0 735.2,428.6 775,410 C814.8,391.4 987.5,309.7 1025,292M760,416 C758.6,424.4 754.6,423.9 756,440 C757.4,456.1 761.2,454.3 764,462"/><path class="l" d="M1027,312 a5,5 0 1,0 10,0 a5,5 0 1,0 -10,0 M1030,331 a5,4 0 1,0 10,0 a5,4 0 1,0 -10,0" stroke-width="5.2"/><path class="l" d="M818,450 L818,578"/><path class="l" d="M570,130 L640,130 M440,490 L530,490 M836,170 L836,222 M1088,380 L1088,470"/></g>
<g transform="translate(553.5 279.5)" stroke-width="1.45"><path class="w" d="M-6,1.5 L-5.5,8 L0.5,10.5 L4,8 L4.5,2 Z"/><path class="w" d="M-8,-1 L-3.5,-4.5 L8,-1.2 L4.5,3 Z"/><path class="k" d="M-3.5,-2.2 L3,-0.6 L1.2,1.6 L-4.8,0 Z" stroke-width="0.8"/><path class="l" d="M0.5,10.5 L0.8,3 M-8,-1 L-8,0.5 L4.5,4.2 L8,0" stroke-width="1.1"/></g><g transform="translate(243.5 142.5)" stroke-width="1.45"><path class="w" d="M-6,1.5 L-5.5,8 L0.5,10.5 L4,8 L4.5,2 Z"/><path class="w" d="M-8,-1 L-3.5,-4.5 L8,-1.2 L4.5,3 Z"/><path class="k" d="M-3.5,-2.2 L3,-0.6 L1.2,1.6 L-4.8,0 Z" stroke-width="0.8"/><path class="l" d="M0.5,10.5 L0.8,3 M-8,-1 L-8,0.5 L4.5,4.2 L8,0" stroke-width="1.1"/></g><g transform="translate(525.5 355.5)" stroke-width="1.45"><path class="w" d="M-6.5,2 L-9,22 L-0.5,25 L4.5,3 Z"/><path class="l" d="M-2,4 L-5.5,23" stroke-width="1.25"/><path class="w" d="M-9,0 L-3.5,-4 L8.5,-1 L4,4 Z"/><path class="k" d="M-4,-1.6 L3.5,0 L2,2 L-5,0.4 Z" stroke-width="0.8"/><path class="l" d="M-9,0 L-9,1.5 L4,5.3 L8.5,0.3" stroke-width="1.1"/></g><g transform="translate(197 229.5)" stroke-width="1.45"><path class="w" d="M-6.5,2 L-9,22 L-0.5,25 L4.5,3 Z"/><path class="l" d="M-2,4 L-5.5,23" stroke-width="1.25"/><path class="w" d="M-9,0 L-3.5,-4 L8.5,-1 L4,4 Z"/><path class="k" d="M-4,-1.6 L3.5,0 L2,2 L-5,0.4 Z" stroke-width="0.8"/><path class="l" d="M-9,0 L-9,1.5 L4,5.3 L8.5,0.3" stroke-width="1.1"/></g><g transform="translate(474.5 368.5) rotate(-21) scale(1.2)" stroke-width="1.4"><path class="w" d="M2,-1.6 L10,-1.6 L10,1.6 L2,1.6 Z"/><path class="l" d="M3.5,-1.6 L4.3,1.6 M5.5,-1.6 L6.3,1.6 M7.5,-1.6 L8.3,1.6" stroke-width="1.1"/><ellipse class="w" cx="0" cy="0" rx="2.4" ry="5"/><path class="w" d="M-1,-3.6 L-5.5,-3.2 L-5.5,3.2 L-1,3.6 Z"/><ellipse class="w" cx="-5.5" cy="0" rx="2" ry="3.3"/><ellipse class="l" cx="-0.6" cy="0" rx="1.6" ry="3.6" stroke-width="1.1"/></g><g transform="translate(157 230) rotate(-18) scale(1.2)" stroke-width="1.4"><path class="w" d="M2,-1.6 L10,-1.6 L10,1.6 L2,1.6 Z"/><path class="l" d="M3.5,-1.6 L4.3,1.6 M5.5,-1.6 L6.3,1.6 M7.5,-1.6 L8.3,1.6" stroke-width="1.1"/><ellipse class="w" cx="0" cy="0" rx="2.4" ry="5"/><path class="w" d="M-1,-3.6 L-5.5,-3.2 L-5.5,3.2 L-1,3.6 Z"/><ellipse class="w" cx="-5.5" cy="0" rx="2" ry="3.3"/><ellipse class="l" cx="-0.6" cy="0" rx="1.6" ry="3.6" stroke-width="1.1"/></g>
<!-- 09_midcluster.py -->
<g transform="translate(640 215) scale(0.25)" stroke-width="6.4"><path class="w" d="M200,110 L215,80 L250,60 L300,75 L306,100 L290,135 L262,166 L240,160 L225,135 L205,125 Z"/><path class="l" d="M215,82 L232,100 L228,132 M232,100 L262,88 L298,100 M262,88 L250,62 M240,158 L262,140 L290,132 M250,112 a8,9 0 1,0 16,0 a8,9 0 1,0 -16,0 M280,84 L292,88" stroke-width="5.85"/><path class="l" d="M170,170 L185,172 L198,88 L210,90"/><path class="l" d="M296,0 L296,72"/><path class="w" d="M85,320 C85.0,312.6 85.0,304.6 90,295 C95.0,285.4 98.0,279.6 110,272 C122.0,264.4 128.0,262.0 150,257 C172.0,252.0 201.0,247.4 220,247 C239.0,246.6 242.0,248.4 245,255 C248.0,261.6 242.0,267.0 235,280 C228.0,293.0 221.0,304.6 210,320 C199.0,335.4 192.0,348.6 180,357 C168.0,365.4 164.0,365.0 150,362 C136.0,359.0 122.0,348.0 110,342 C98.0,336.0 95.0,336.4 90,332 C85.0,327.6 85.0,327.4 85,320 Z"/><path class="l" d="M105,327 C105.5,321.5 102.0,316.8 107,305 C112.0,293.2 111.8,290.0 125,280 C138.2,270.0 133.2,271.2 160,265 C186.8,258.8 214.0,257.5 232,255" stroke-width="6.5"/><path class="l" d="M121,315 a15,19 0 1,0 30,0 a15,19 0 1,0 -30,0 M127.5,315 a8.5,11 0 1,0 17,0 a8.5,11 0 1,0 -17,0" stroke-width="5.85"/><path class="l" d="M230,292 L232,365"/><path class="w" d="M275,240 L295,185 L340,165 L380,140 L420,155 L402,245 L385,256 L290,262 Z"/><path class="l" d="M305,196 L350,180 L346,240 L300,240 Z M314,204 L340,194 L338,232 L310,232 Z M360,170 L352,250 M372,162 L366,254 M384,152 L380,256 M380,140 L372,162 L340,172 M396,160 L392,250 M408,158 L398,246 M290,250 L385,246" stroke-width="5.85"/><path class="l" d="M382,258 L382,360"/><path class="w" d="M448,155 L520,135 L570,150 L576,170 L540,206 L450,212 L444,190 Z"/><path class="l" d="M455,162 L520,146 L560,158 M462,172 L470,200 M480,168 L492,198 M470,170 L500,190 M505,165 L510,198 M520,166 L545,172 L540,196 L515,196 M530,172 L528,194 M545,172 L570,178 L565,186 L548,184 M450,205 L540,198" stroke-width="5.85"/><path class="l" d="M490,45 L490,135"/><path class="l" d="M575,180 L540,330 L580,332 M638,360 L638,440 M92,165 L92,195 M207,500 L207,560"/><path class="l" d="M376,-80 L376,20 M-56,20 L-56,42"/></g>
<g transform="translate(666.5 251) rotate(17)" stroke-width="1.35"><path class="w" d="M1,-1.9 L15,-1.9 L15,1.9 L1,1.9 Z"/><path class="l" d="M2.5,-1.9 L3.3,1.9 M4.2,-1.9 L5,1.9 M5.9,-1.9 L6.7,1.9 M7.6,-1.9 L8.4,1.9 M9.3,-1.9 L10.1,1.9 M11,-1.9 L11.8,1.9 M12.7,-1.9 L13.5,1.9 M14.4,-1.9 L15.2,1.9 " stroke-width="1.1"/><path class="w" d="M-9.5,-4.42 L-1,-5.2 L-1,5.2 L-9.5,4.42 Z"/><path class="l" d="M-9.5,-1.56 L-1,-1.82 M-9.5,1.82 L-1,2.08" stroke-width="1.1"/><ellipse class="w" cx="-9.5" cy="0" rx="2.86" ry="4.42"/><ellipse class="w" cx="0" cy="0" rx="3.25" ry="6.5"/><ellipse class="l" cx="-0.8" cy="0" rx="1.95" ry="4.03" stroke-width="1.1"/></g><g transform="translate(735 225) rotate(161.5) scale(1.5)" stroke-width="1.4"><path class="w" d="M2,-1.6 L10,-1.6 L10,1.6 L2,1.6 Z"/><path class="l" d="M3.5,-1.6 L4.3,1.6 M5.5,-1.6 L6.3,1.6 M7.5,-1.6 L8.3,1.6" stroke-width="1.1"/><ellipse class="w" cx="0" cy="0" rx="3.3" ry="4.6"/><path class="w" d="M-1,-2.7 L-5.5,-2.4 L-5.5,2.4 L-1,2.7 Z"/><ellipse class="w" cx="-5.5" cy="0" rx="1.5" ry="2.475"/><ellipse class="l" cx="-0.6" cy="0" rx="1.8" ry="2.8" stroke-width="1.1"/></g><g transform="translate(799 300) rotate(180)" stroke-width="1.35"><path class="w" d="M1,-1.9 L13,-1.9 L13,1.9 L1,1.9 Z"/><path class="l" d="M2.5,-1.9 L3.3,1.9 M4.2,-1.9 L5,1.9 M5.9,-1.9 L6.7,1.9 M7.6,-1.9 L8.4,1.9 M9.3,-1.9 L10.1,1.9 M11,-1.9 L11.8,1.9 M12.7,-1.9 L13.5,1.9 " stroke-width="1.1"/><path class="w" d="M-9,-3.74 L-1,-4.4 L-1,4.4 L-9,3.74 Z"/><path class="l" d="M-9,-1.32 L-1,-1.54 M-9,1.54 L-1,1.76" stroke-width="1.1"/><ellipse class="w" cx="-9" cy="0" rx="2.42" ry="3.74"/><ellipse class="w" cx="0" cy="0" rx="3" ry="6"/><ellipse class="l" cx="-0.8" cy="0" rx="1.8" ry="3.72" stroke-width="1.1"/></g><g transform="translate(530 174.5) rotate(161) scale(1.5)" stroke-width="1.4"><path class="w" d="M2,-1.6 L10,-1.6 L10,1.6 L2,1.6 Z"/><path class="l" d="M3.5,-1.6 L4.3,1.6 M5.5,-1.6 L6.3,1.6 M7.5,-1.6 L8.3,1.6" stroke-width="1.1"/><ellipse class="w" cx="0" cy="0" rx="3.3" ry="4.6"/><path class="w" d="M-1,-2.7 L-5.5,-2.4 L-5.5,2.4 L-1,2.7 Z"/><ellipse class="w" cx="-5.5" cy="0" rx="1.5" ry="2.475"/><ellipse class="l" cx="-0.6" cy="0" rx="1.8" ry="2.8" stroke-width="1.1"/></g><g transform="translate(506.5 160) rotate(192.8)" stroke-width="1.35"><path class="w" d="M1,-1.9 L14.5,-1.9 L14.5,1.9 L1,1.9 Z"/><path class="l" d="M2.5,-1.9 L3.3,1.9 M4.2,-1.9 L5,1.9 M5.9,-1.9 L6.7,1.9 M7.6,-1.9 L8.4,1.9 M9.3,-1.9 L10.1,1.9 M11,-1.9 L11.8,1.9 M12.7,-1.9 L13.5,1.9 M14.4,-1.9 L15.2,1.9 " stroke-width="1.1"/><path class="w" d="M-13,-3.91 L-1,-4.6 L-1,4.6 L-13,3.91 Z"/><path class="l" d="M-13,-1.38 L-1,-1.61 M-13,1.61 L-1,1.84" stroke-width="1.1"/><ellipse class="w" cx="-13" cy="0" rx="2.53" ry="3.91"/><ellipse class="w" cx="0" cy="0" rx="3" ry="6"/><ellipse class="l" cx="-0.8" cy="0" rx="1.8" ry="3.72" stroke-width="1.1"/></g><g stroke-width="1.4"><ellipse class="w" cx="621.5" cy="303" rx="2.6" ry="2.8"/><path class="w" d="M621.5,300.4 L628,302 L628,308 L621.5,305.6 Z" stroke-width="1.2"/><ellipse class="w" cx="628" cy="305" rx="4.6" ry="5.4"/><ellipse class="l" cx="628.3" cy="305.3" rx="2.6" ry="3.2" stroke-width="1.1"/><ellipse class="l" cx="628.3" cy="305.3" rx="1" ry="1.4" stroke-width="1"/></g><g stroke-width="1.4"><ellipse class="w" cx="699" cy="336.3" rx="2.6" ry="2.8"/><path class="w" d="M699,333.7 L692.5,331.5 L692.5,337.5 L699,338.9 Z" stroke-width="1.2"/><ellipse class="w" cx="692.5" cy="334.5" rx="4.6" ry="5.4"/><ellipse class="l" cx="692.8" cy="334.8" rx="2.6" ry="3.2" stroke-width="1.1"/><ellipse class="l" cx="692.8" cy="334.8" rx="1" ry="1.4" stroke-width="1"/></g>
<!-- 10_seat26.py -->
<g transform="translate(780 135) scale(0.25)" stroke-width="6.4"><path class="w" d="M285,150 L290,135 L305,100 L325,75 L360,68 L740,225 L800,245 L806,265 L770,290 L760,320 L750,350 L640,660 L625,670 L480,615 L500,400 L400,200 Z"/><path class="l" d="M325,75 L332,108 L700,252 L716,262 L740,225 M332,108 L292,136 M360,68 L366,84 M290,135 L330,150 L345,165 L300,160 Z M310,140 a12,8 0 1,0 24,4 M716,262 L700,310 L720,330 L742,340 L760,320 M730,270 L760,262 L790,270 M740,290 L770,280 M700,310 L690,350" stroke-width="6.5"/><path class="l" d="M400,95 L450,115 L446,125 L396,105 Z M520,140 L575,162 L571,172 L516,150 Z M650,195 L705,215 L701,225 L646,205 Z M420,150 L440,158 L436,185 L460,195 L466,165 M345,115 L360,120 L356,140" stroke-width="5.2"/><path class="l" d="M296,120 L318,96 L340,100 M300,150 L320,128 L345,140 M312,148 L330,132 M318,120 L326,150 M720,240 L746,250 L776,244 M712,280 L740,300 L765,286 M742,262 L752,300 L744,330 M722,300 L736,322 M770,256 L796,254 M706,296 L716,330 L738,338 M700,330 L690,380 L700,400 L720,360 M708,372 L716,352" stroke-width="6.5"/><path class="l" d="M742,345 L632,650 M722,335 L690,420 L612,640 M700,360 L660,470 M625,670 L632,650 M480,615 L490,600 L612,648 M500,570 L600,610 L640,570 L700,400 M560,610 L610,570 L640,572 M520,560 L560,500 L580,360 M600,290 L690,320 M580,360 L520,570" stroke-width="6.5"/><path class="l" d="M620,280 L660,292 L640,380 L605,370 Z M630,292 L650,298 L636,365 L618,360 Z M578,470 L600,478 L578,570 L558,562 Z" stroke-width="5.85"/><path class="l" d="M684,360 L669,540 L594,605 L554,612 M698,362 L682,548 L604,618 L560,624 M584,300 L520,520 L505,560 M598,440 L640,452 M590,480 L632,492" stroke-width="6.5"/><path class="l" d="M520,210 m-6,0 a6,7 0 1,0 12,0 a6,7 0 1,0 -12,0 M630,240 m-6,0 a6,7 0 1,0 12,0 a6,7 0 1,0 -12,0 M585,405 m-6,0 a6,7 0 1,0 12,0 a6,7 0 1,0 -12,0 M610,425 m-6,0 a6,7 0 1,0 12,0 a6,7 0 1,0 -12,0 M625,428 m-6,0 a6,7 0 1,0 12,0 a6,7 0 1,0 -12,0 M565,460 m-6,0 a6,7 0 1,0 12,0 a6,7 0 1,0 -12,0 M610,455 m-6,0 a6,7 0 1,0 12,0 a6,7 0 1,0 -12,0 M630,485 m-6,0 a6,7 0 1,0 12,0 a6,7 0 1,0 -12,0 M640,488 m-6,0 a6,7 0 1,0 12,0 a6,7 0 1,0 -12,0 M545,515 m-6,0 a6,7 0 1,0 12,0 a6,7 0 1,0 -12,0 M535,565 m-6,0 a6,7 0 1,0 12,0 a6,7 0 1,0 -12,0 M555,590 m-6,0 a6,7 0 1,0 12,0 a6,7 0 1,0 -12,0 M600,265 m-6,0 a6,7 0 1,0 12,0 a6,7 0 1,0 -12,0 M560,240 m-6,0 a6,7 0 1,0 12,0 a6,7 0 1,0 -12,0 " stroke-width="5.2"/><path class="l" d="M545,235 L560,232 M590,255 L600,270 L610,262 M600,340 L592,350" stroke-width="5.2"/><path class="w" d="M135,185 L150,160 L185,135 L290,170 L335,192 L250,252 L140,210 Z"/><path class="l" d="M150,160 L160,185 L250,220 M160,185 L140,210 M215,155 L218,158" stroke-width="6.5"/><path class="w" d="M35,545 L50,525 L90,515 L165,535 L155,628 L45,590 Z"/><path class="l" d="M50,525 L58,550 L155,580 M58,550 L45,590" stroke-width="6.5"/><path class="w" d="M245,250 C253.2,225.5 258.6,216.2 268,206 C277.4,195.8 287.8,193.4 300,190 C312.2,186.6 323.0,186.7 340,186 C357.0,185.3 377.9,181.1 400,186 C422.1,190.9 446.2,204.1 470,215 C493.8,225.9 519.6,237.2 540,250 C560.4,262.8 579.8,278.1 590,290 C600.2,301.9 605.1,308.1 600,320 C594.9,331.9 573.6,348.1 560,360 C546.4,371.9 528.5,376.4 520,390 C511.5,403.6 518.5,409.4 510,440 C501.5,470.6 481.9,532.6 470,570 C458.1,607.4 446.8,634.5 440,660 C433.2,685.5 435.1,706.4 430,720 C424.9,733.6 421.9,740.0 410,740 C398.1,740.0 404.2,738.7 360,720 C315.8,701.3 184.8,655.5 150,630 C115.2,604.5 149.9,600.6 155,570 C160.1,539.4 168.9,487.4 180,450 C191.1,412.6 208.9,384.0 220,350 C231.1,316.0 236.8,274.5 245,250 Z"/><path class="l" d="M300,195 L270,290 L240,420 L205,550 L185,640 M285,300 L400,340 L500,380 L512,290 L490,240 L440,205 M280,312 L495,392 M255,425 L440,500 M262,438 L432,510 M470,215 L502,260 L492,350 L520,390 M500,380 L470,450 L440,570 L410,700 L405,730"/><path class="l" d="M518,272 L560,300 L540,322 L514,306 Z M530,290 L545,300" stroke-width="6.5"/><path class="l" d="M320,315 L345,325 L340,335 L318,326 Z M415,352 L440,362 L436,372 L412,362 Z M250,420 L268,428 L264,444 L248,436 Z M430,496 L446,502 L442,516 L428,510 Z" stroke-width="5.2"/><path class="l" d="M230,330 L228,336 M200,470 L198,476 M175,560 L173,566 M480,470 L478,476 M450,600 L448,606 M250,380 L256,400 M420,690 L426,670" stroke-width="5.2"/><path class="l" d="M362,725 L362,800 L588,800 L588,665 M485,800 L485,860"/></g>

<!-- 11_panels.py -->
<g transform="translate(790 0) scale(0.25)" stroke-width="6.4"><path class="w" d="M212,50 L230,38 L500,150 L502,170 L400,525 L385,535 L100,425 L190,118 L238,128 L248,108 L238,88 L212,84 Z"/><path class="l" d="M212,50 L488,162 L385,535 M488,162 L500,150 M236,80 L462,175 L380,470 L325,478 L172,420 L150,350 L206,140 M238,128 L228,140 L206,140 M150,350 L128,420 L172,420 M380,438 L325,478 L318,500 M380,438 L372,510 M232,84 a6,6 0 1,0 10,4" stroke-width="5.85"/><path class="l" d="M280.016,119.534 L276.016,179.534 A7,7 0 0,0 289.984,180.466 L293.984,120.466 A7,7 0 0,0 280.016,119.534 Z M287,126 L283,174 M395.031,167.347 L389.031,231.347 A7,7 0 0,0 402.969,232.653 L408.969,168.653 A7,7 0 0,0 395.031,167.347 Z M402,174 L396,226 M246,244 m-9,0 a9,10 0 1,0 18,0 a9,10 0 1,0 -18,0 M246,244 m-5,0 a5,6 0 1,0 10,0 a5,6 0 1,0 -10,0 M238,246 l-14,6 l2,8 l14,-4 M239,250 l-12,5 M390,305 m-9,0 a9,10 0 1,0 18,0 a9,10 0 1,0 -18,0 M390,305 m-5,0 a5,6 0 1,0 10,0 a5,6 0 1,0 -10,0 M382,307 l-14,6 l2,8 l14,-4 M383,311 l-12,5 M188,374 m-9,0 a9,10 0 1,0 18,0 a9,10 0 1,0 -18,0 M188,374 m-5,0 a5,6 0 1,0 10,0 a5,6 0 1,0 -10,0 M180,376 l-14,6 l2,8 l14,-4 M181,380 l-12,5 M314,430 m-9,0 a9,10 0 1,0 18,0 a9,10 0 1,0 -18,0 M314,430 m-5,0 a5,6 0 1,0 10,0 a5,6 0 1,0 -10,0 M306,432 l-14,6 l2,8 l14,-4 M307,436 l-12,5 M152,410 m-9,0 a9,10 0 1,0 18,0 a9,10 0 1,0 -18,0 M152,410 m-5,0 a5,6 0 1,0 10,0 a5,6 0 1,0 -10,0 M144,412 l-14,6 l2,8 l14,-4 M145,416 l-12,5 M342,490 m-9,0 a9,10 0 1,0 18,0 a9,10 0 1,0 -18,0 M342,490 m-5,0 a5,6 0 1,0 10,0 a5,6 0 1,0 -10,0 M334,492 l-14,6 l2,8 l14,-4 M335,496 l-12,5 " stroke-width="5.2"/><path class="l" d="M132,418 L150,402 L158,424 Z M328,498 L348,482 L350,504 Z M140,414 L152,420 M336,494 L348,498" stroke-width="6.5"/><path class="l" d="M90,212 L160,212"/><path class="w" d="M572,198 L585,185 L710,240 L706,262 L604,598 L590,610 L480,548 L478,520 L500,440 Z"/><path class="l" d="M572,198 L698,252 L592,606 M698,252 L710,240 M480,520 L500,528 L502,545" stroke-width="5.85"/><path class="l" d="M492.081,484.106 L486.081,517.106 A5,5 0 0,0 495.919,518.894 L501.919,485.894 A5,5 0 0,0 492.081,484.106 Z M497,491 L491,512 " stroke-width="5.2"/><path class="l" d="M658,130 L658,215"/></g>
<g transform="translate(900 60) scale(0.25)" stroke-width="6.4"><path class="w" d="M325,30 L340,18 L745,195 L758,210 L746,246 L716,240 L702,260 L736,275 L650,560 L636,592 L620,598 L230,422 L225,405 L250,330 L245,310 Z"/><path class="l" d="M325,30 L738,210 L730,236 M738,210 L745,195 M342,52 L700,205 L690,250 M702,260 L690,250 M342,52 L262,318 L266,335 L250,392 L610,522 L700,268 M610,522 L640,550 M610,522 L600,575 M636,592 L640,550 L736,275 M230,422 L250,392" stroke-width="5.85"/><path class="l" d="M398.018,99.4923 L394.018,154.492 A7,7 0 0,0 407.982,155.508 L411.982,100.508 A7,7 0 0,0 398.018,99.4923 Z M405,106 L401,149 M503.018,144.492 L499.018,199.492 A7,7 0 0,0 512.982,200.508 L516.982,145.508 A7,7 0 0,0 503.018,144.492 Z M510,151 L506,194 M653.018,209.492 L649.018,264.492 A7,7 0 0,0 662.982,265.508 L666.982,210.508 A7,7 0 0,0 653.018,209.492 Z M660,216 L656,259 M318,205 m-9,0 a9,10 0 1,0 18,0 a9,10 0 1,0 -18,0 M318,205 m-5,0 a5,6 0 1,0 10,0 a5,6 0 1,0 -10,0 M310,207 l-14,6 l2,8 l14,-4 M311,211 l-12,5 M478,280 m-9,0 a9,10 0 1,0 18,0 a9,10 0 1,0 -18,0 M478,280 m-5,0 a5,6 0 1,0 10,0 a5,6 0 1,0 -10,0 M470,282 l-14,6 l2,8 l14,-4 M471,286 l-12,5 M294,366 m-9,0 a9,10 0 1,0 18,0 a9,10 0 1,0 -18,0 M294,366 m-5,0 a5,6 0 1,0 10,0 a5,6 0 1,0 -10,0 M286,368 l-14,6 l2,8 l14,-4 M287,372 l-12,5 M434,430 m-9,0 a9,10 0 1,0 18,0 a9,10 0 1,0 -18,0 M434,430 m-5,0 a5,6 0 1,0 10,0 a5,6 0 1,0 -10,0 M426,432 l-14,6 l2,8 l14,-4 M427,436 l-12,5 M628,345 m-9,0 a9,10 0 1,0 18,0 a9,10 0 1,0 -18,0 M628,345 m-5,0 a5,6 0 1,0 10,0 a5,6 0 1,0 -10,0 M620,347 l-14,6 l2,8 l14,-4 M621,351 l-12,5 M578,495 m-9,0 a9,10 0 1,0 18,0 a9,10 0 1,0 -18,0 M578,495 m-5,0 a5,6 0 1,0 10,0 a5,6 0 1,0 -10,0 M570,497 l-14,6 l2,8 l14,-4 M571,501 l-12,5 " stroke-width="5.2"/><path class="l" d="M604,573 L624,552 L630,578 Z M612,568 L626,572" stroke-width="6.5"/><path class="l" d="M550,20 L550,105"/></g>

<!-- 12_rightcluster.py -->
<g transform="translate(831 195) scale(0.25)" stroke-width="6.4"><path class="w" d="M612,78 C610.4,71.6 624.0,64.2 632,60 C640.0,55.8 639.0,55.0 652,57 C665.0,59.0 687.0,65.4 697,70 C707.0,74.6 703.4,76.0 702,80 C700.6,84.0 702.4,87.6 690,90 C677.6,92.4 655.6,94.4 640,92 C624.4,89.6 613.6,84.4 612,78 Z"/><path class="w" d="M599.5,135 C599.5,124.7 602.0,114.9 607,105 C612.0,95.1 618.9,86.8 627,80 C635.1,73.2 641.2,69.8 652,67.5 C662.8,65.2 678.0,65.7 687,67.5 C696.0,69.3 699.3,73.5 702,77.5 C704.7,81.5 703.8,86.0 702,90 C700.2,94.0 698.3,97.3 692,100 C685.7,102.7 673.8,102.8 667,105 C660.2,107.2 657.2,109.3 654.5,112.5 C651.8,115.7 649.8,120.1 652,122.5 C654.2,124.9 660.7,125.5 667,126 C673.3,126.5 683.0,122.5 687,125 C691.0,127.5 690.9,134.6 689.5,140 C688.1,145.4 691.6,149.6 679.5,155 C667.4,160.4 635.0,168.7 622,170 C609.0,171.3 611.0,168.8 607,162.5 C603.0,156.2 599.5,145.3 599.5,135 Z"/><path class="l" d="M612,150 C613.0,140.5 610.5,127.0 616,112 C621.5,97.0 623.0,98.0 634,90 C645.0,82.0 646.0,82.0 660,80 C674.0,78.0 682.5,81.5 690,82M621,132.5 a6,7 0 1,0 12,0 a6,7 0 1,0 -12,0 M640,66 a7,4 0 1,0 14,2 M664,70 L676,74" stroke-width="5.85"/><path class="l" d="M618,168 L618,240"/><path class="w" d="M708,158 L740,172 L736,184 L706,168 Z"/><path class="w" d="M737,182 a13,13 0 1,0 26,0 a13,13 0 1,0 -26,0 Z"/><path class="l" d="M742,176 L758,188 M715,162 L712,170 M724,166 L721,174" stroke-width="5.2"/><path class="l" d="M750,100 L750,168"/><path class="w" d="M844,108 L852,100 L877,102 L885,112 L872,121 L857,121 Z M857,121 L842,168 L848,174 L856,172 L872,121"/><path class="l" d="M848,106 C856,110 872,110 882,108 M852,140 L864,142 M848,154 L860,156" stroke-width="5.2"/><path class="l" d="M888,120 L965,120"/><path class="w" d="M805,204 C805,188 866,190 866,206 C866,220 805,220 805,204 Z M816,218 L818,240 L826,250 L842,248 L846,236 L850,218"/><path class="l" d="M818,204 C818,198 852,198 852,206 C852,212 818,212 818,204 Z M818,232 L848,230" stroke-width="5.2"/><path class="l" d="M860,215 L940,215"/><path class="l" d="M808,275 L798,322 L776,346 L768,372 M818,278 L808,326 L790,346 L786,362" stroke-width="6.5"/><path class="l" d="M808,275 L818,278 M806,284 L816,287 M804,293 L814,296" stroke-width="4.55"/><path class="w" d="M742,392 L756,360 L800,350 L812,372 L800,400 L804,430 L790,452 L770,448 L760,430 L742,420 Z"/><path class="l" d="M756,360 L764,396 L760,430 M764,396 L800,400 M770,370 L790,366 L792,390 M748,400 L756,420 M776,420 a7,8 0 1,0 14,0 a7,8 0 1,0 -14,0" stroke-width="5.85"/><path class="l" d="M820,295 L880,295"/><path class="l" d="M918,400 L980,400 M790,502 L850,490"/></g>
<g transform="translate(831 290) scale(0.25)" stroke-width="6.4"><path class="w" d="M945,92 L965,80 L990,84 L985,98 Z"/><path class="w" d="M965,100 L985,82 L1050,80 L1078,95 L1076,135 L1050,170 L1000,190 L975,180 L968,140 Z"/><path class="l" d="M978,104 L992,92 L1046,90 L1066,100 L1064,132 L1044,160 L1002,178 L986,170 L980,138 Z M985,130 L1010,100 L1050,96 M990,150 L1060,120" stroke-width="5.85"/><path class="l" d="M999,115 a7,7 0 1,0 14,0 a7,7 0 1,0 -14,0 M1039,112 a7,7 0 1,0 14,0 a7,7 0 1,0 -14,0 M1012,152 a8,8 0 1,0 16,0 a8,8 0 1,0 -16,0 M1036,148 a6,6 0 1,0 12,0 a6,6 0 1,0 -12,0" stroke-width="5.2"/><path class="l" d="M992,195 L992,295"/><path class="w" d="M690,330 L710,300 L745,285 L770,300 L790,280 L815,290 L810,330 L795,360 L785,390 L760,400 L745,375 L705,360 Z"/><path class="l" d="M700,322 C715,300 745,296 760,310 C770,322 760,340 750,350 M712,330 C725,312 745,310 752,320 M770,300 L775,330 L760,360 L750,380 M790,282 L785,325 L795,358 M800,296 a4,5 0 1,0 8,0 a4,5 0 1,0 -8,0 M768,380 a4,5 0 1,0 8,0 a4,5 0 1,0 -8,0 M720,340 L745,372 M735,325 L755,350" stroke-width="5.85"/><path class="l" d="M706,340 C712,318 740,306 758,316 M716,350 C724,330 742,326 750,334 L744,362 M758,316 L764,350 L752,372" stroke-width="7.8"/><path class="l" d="M750,400 L750,465"/><path class="l" d="M575,245 L640,245 M900,295 L900,375"/></g>
<g transform="translate(1049.75 293.5) rotate(200.6)" stroke-width="1.35"><path class="w" d="M1,-1.9 L12,-1.9 L12,1.9 L1,1.9 Z"/><path class="l" d="M2.5,-1.9 L3.3,1.9 M4.2,-1.9 L5,1.9 M5.9,-1.9 L6.7,1.9 M7.6,-1.9 L8.4,1.9 M9.3,-1.9 L10.1,1.9 M11,-1.9 L11.8,1.9 " stroke-width="1.1"/><path class="w" d="M-10,-3.91 L-1,-4.6 L-1,4.6 L-10,3.91 Z"/><path class="l" d="M-10,-1.38 L-1,-1.61 M-10,1.61 L-1,1.84" stroke-width="1.1"/><ellipse class="w" cx="-10" cy="0" rx="2.53" ry="3.91"/><ellipse class="w" cx="0" cy="0" rx="3" ry="6"/><ellipse class="l" cx="-0.8" cy="0" rx="1.8" ry="3.72" stroke-width="1.1"/></g><g transform="translate(1052 316) rotate(15)" stroke-width="1.35"><path class="w" d="M1,-1.9 L14,-1.9 L14,1.9 L1,1.9 Z"/><path class="l" d="M2.5,-1.9 L3.3,1.9 M4.2,-1.9 L5,1.9 M5.9,-1.9 L6.7,1.9 M7.6,-1.9 L8.4,1.9 M9.3,-1.9 L10.1,1.9 M11,-1.9 L11.8,1.9 M12.7,-1.9 L13.5,1.9 " stroke-width="1.1"/><path class="w" d="M-9,-4.08 L-1,-4.8 L-1,4.8 L-9,4.08 Z"/><path class="l" d="M-9,-1.44 L-1,-1.68 M-9,1.68 L-1,1.92" stroke-width="1.1"/><ellipse class="w" cx="-9" cy="0" rx="2.64" ry="4.08"/><ellipse class="w" cx="0" cy="0" rx="3" ry="6"/><ellipse class="l" cx="-0.8" cy="0" rx="1.8" ry="3.72" stroke-width="1.1"/></g><g transform="translate(1001 351) rotate(17)" stroke-width="1.35"><path class="w" d="M1,-1.9 L13.5,-1.9 L13.5,1.9 L1,1.9 Z"/><path class="l" d="M2.5,-1.9 L3.3,1.9 M4.2,-1.9 L5,1.9 M5.9,-1.9 L6.7,1.9 M7.6,-1.9 L8.4,1.9 M9.3,-1.9 L10.1,1.9 M11,-1.9 L11.8,1.9 M12.7,-1.9 L13.5,1.9 " stroke-width="1.1"/><path class="w" d="M-7.5,-3.91 L-1,-4.6 L-1,4.6 L-7.5,3.91 Z"/><path class="l" d="M-7.5,-1.38 L-1,-1.61 M-7.5,1.61 L-1,1.84" stroke-width="1.1"/><ellipse class="w" cx="-7.5" cy="0" rx="2.53" ry="3.91"/><ellipse class="w" cx="0" cy="0" rx="3" ry="6"/><ellipse class="l" cx="-0.8" cy="0" rx="1.8" ry="3.72" stroke-width="1.1"/></g><g transform="translate(1056 355.5) rotate(164) scale(1.5)" stroke-width="1.4"><path class="w" d="M2,-1.6 L10,-1.6 L10,1.6 L2,1.6 Z"/><path class="l" d="M3.5,-1.6 L4.3,1.6 M5.5,-1.6 L6.3,1.6 M7.5,-1.6 L8.3,1.6" stroke-width="1.1"/><ellipse class="w" cx="0" cy="0" rx="3.3" ry="4.6"/><path class="w" d="M-1,-2.7 L-5.5,-2.4 L-5.5,2.4 L-1,2.7 Z"/><ellipse class="w" cx="-5.5" cy="0" rx="1.5" ry="2.475"/><ellipse class="l" cx="-0.6" cy="0" rx="1.8" ry="2.8" stroke-width="1.1"/></g>
<!-- 13_p22.py -->
<g transform="translate(440 125) scale(0.25)" stroke-width="6.4"><path class="w" d="M132,212 L145,158 L160,145 L178,155 L182,180 L166,192 L160,215 L175,228 L160,240 L140,225 Z"/><path class="l" d="M160,168 a7,8 0 1,0 14,0 a7,8 0 1,0 -14,0 M148,160 L140,210" stroke-width="5.85"/><path class="w" d="M128,236 L156,232 L160,280 L136,286 Z"/><path class="l" d="M138,244 L150,243 L152,270 L140,272 Z" stroke-width="5.2"/><path class="w" d="M175,232 C185.8,219.8 191.2,210.5 215,206 C238.8,201.5 248.8,203.0 270,214 C291.2,225.0 295.0,231.0 300,250 C305.0,269.0 302.5,278.5 290,290 C277.5,301.5 273.8,298.5 250,296 C226.2,293.5 214.5,290.2 195,280 C175.5,269.8 177.0,267.0 172,255 C167.0,243.0 164.2,244.2 175,232 Z"/><path class="l" d="M188,236 C196.5,227.5 201.0,220.5 220,218 C239.0,215.5 247.5,217.0 264,226 C280.5,235.0 282.5,240.5 286,254 C289.5,267.5 287.0,272.5 278,280 C269.0,287.5 268.2,286.5 250,284 C231.8,281.5 221.0,278.0 205,270 C189.0,262.0 190.2,260.5 186,252 C181.8,243.5 179.5,244.5 188,236 Z" stroke-width="8.45"/><path class="l" d="M205,232 L225,250 L215,268 M240,228 L236,262 L262,270 M250,240 L270,246 M246,256 a5,5 0 1,0 10,0 a5,5 0 1,0 -10,0 M262,232 a5,4 0 1,0 10,0 a5,4 0 1,0 -10,0" stroke-width="5.85"/><path class="l" d="M188,115 L202,116 M192,116 L192,175 L182,178 M55,258 L128,258 M265,70 L265,125 M368,215 L368,290"/></g>

<!-- 20_labels.py -->
<g><text x="58.5" y="45" text-anchor="middle">1</text><text x="153.2" y="120.5" text-anchor="middle">11</text><text x="212.75" y="94.5" text-anchor="middle">12</text><text x="277" y="147.5" text-anchor="middle">6</text><text x="307.5" y="160.5" text-anchor="middle">3</text><text x="372" y="191" text-anchor="middle">25</text><text x="59.5" y="246" text-anchor="middle">8</text><text x="66.6" y="379.5" text-anchor="middle">9</text><text x="164" y="407" text-anchor="middle">33</text><text x="104" y="537.5" text-anchor="middle" style="stroke-width:.25px">10</text><text x="158" y="267.5" text-anchor="middle">39</text><text x="192.5" y="285" text-anchor="middle">7</text><text x="434.5" y="437" text-anchor="middle">28</text><text x="496" y="405" text-anchor="middle">29</text><text x="469.5" y="412" text-anchor="middle">39</text><text x="561" y="373.75" text-anchor="middle">7</text><text x="589.5" y="282.5" text-anchor="middle">6</text><text x="631" y="282.5" text-anchor="middle">19</text><text x="691" y="375.5" text-anchor="middle">19</text><text x="626" y="403" text-anchor="middle">13</text><text x="662" y="279" text-anchor="middle">34</text><text x="699" y="323" text-anchor="middle">23</text><text x="735.4" y="320.5" text-anchor="middle">18</text><text x="763.75" y="221" text-anchor="middle">21</text><text x="714" y="212.5" text-anchor="middle">24</text><text x="734" y="193.75" text-anchor="middle">39</text><text x="798.75" y="339.5" text-anchor="middle">37</text><text x="412.75" y="95" text-anchor="middle">2</text><text x="478" y="66.25" text-anchor="middle">35</text><text x="499.5" y="48.75" text-anchor="middle">16</text><text x="497.5" y="70" text-anchor="middle">17</text><text x="554.4" y="67.5" text-anchor="middle">40</text><text x="589" y="61.25" text-anchor="middle">15</text><text x="636.5" y="35.5" text-anchor="middle">4</text><text x="546" y="115.5" text-anchor="middle">14</text><text x="473.75" y="140.5" text-anchor="middle">38</text><text x="506" y="142" text-anchor="middle">36</text><text x="440.5" y="194.5" text-anchor="middle">22</text><text x="531" y="212" text-anchor="middle">39</text><text x="803.75" y="59.5" text-anchor="middle">5</text><text x="954" y="30.5" text-anchor="middle">20</text><text x="1036" y="63" text-anchor="middle">27</text><text x="986.4" y="269.5" text-anchor="middle">31</text><text x="1019" y="217" text-anchor="middle">40</text><text x="1083.75" y="230" text-anchor="middle">16</text><text x="1077.6" y="254.5" text-anchor="middle">17</text><text x="1063.5" y="275" text-anchor="middle">30</text><text x="1087" y="300" text-anchor="middle">35</text><text x="1017.5" y="328" text-anchor="middle">38</text><text x="962.75" y="357" text-anchor="middle">36</text><text x="1055.4" y="399.5" text-anchor="middle">39</text><text x="1078.75" y="380" text-anchor="middle">2</text><text x="1018" y="422.5" text-anchor="middle">32</text><text x="901.5" y="366" text-anchor="middle">26</text></g>
<text x="854.5" y="547.5" style="font-family:'Liberation Mono',monospace;font-size:15.4px;stroke-width:.15px" textLength="101" lengthAdjust="spacing">SV53-B4101D</text>
</svg>
</body></html>
